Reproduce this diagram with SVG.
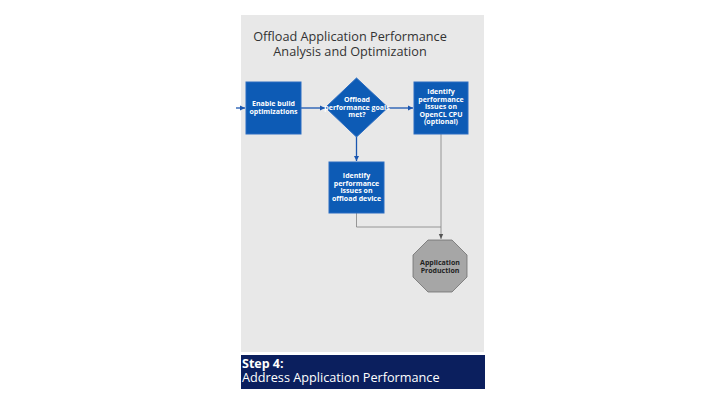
<svg xmlns="http://www.w3.org/2000/svg" width="720" height="405" viewBox="0 0 720 405">
<defs>
<style>
.node{fill:#0d5bb5;stroke:#2a6cc2;stroke-width:1}
.nt{font-family:"Open Sans","Noto Sans",sans-serif;font-weight:bold;font-size:7px;fill:#ffffff;text-anchor:middle}
.ot{font-family:"Open Sans","Noto Sans",sans-serif;font-weight:bold;font-size:7px;fill:#222222;text-anchor:middle}
.blue{stroke:#1a56b0;stroke-width:1.3;fill:none}
.gray{stroke:#808080;stroke-width:0.8;fill:none}
</style>
<marker id="ab" markerWidth="6" markerHeight="6" refX="5" refY="3" orient="auto" markerUnits="userSpaceOnUse"><path d="M0,0.5 L5,3 L0,5.5 z" fill="#1a56b0"/></marker>
<marker id="ag" markerWidth="6" markerHeight="6" refX="5" refY="3" orient="auto" markerUnits="userSpaceOnUse"><path d="M0,0.8 L5,3 L0,5.2 z" fill="#555555"/></marker>
</defs>
<rect width="720" height="405" fill="#ffffff"/>
<rect x="241" y="15" width="243" height="337" fill="#e8e8e8"/>
<g id="title" font-family="'Open Sans','Noto Sans',sans-serif" font-size="12.7" fill="#333333" text-anchor="middle">
<text x="350" y="41">Offload Application Performance</text>
<text x="350" y="56">Analysis and Optimization</text>
</g>
<g id="connectors">
<line class="blue" x1="236" y1="108" x2="245" y2="108" marker-end="url(#ab)"/>
<line class="blue" x1="301" y1="108" x2="325" y2="108" marker-end="url(#ab)"/>
<line class="blue" x1="388" y1="108" x2="413" y2="108" marker-end="url(#ab)"/>
<line class="blue" x1="356.5" y1="137" x2="356.5" y2="161" marker-end="url(#ab)"/>
<polyline class="gray" points="356.5,213 356.5,227 441,227"/>
<line class="gray" x1="441" y1="134" x2="441" y2="239" marker-end="url(#ag)"/>
</g>
<g id="enable-build">
<rect class="node" x="246" y="82" width="55" height="52"/>
<text class="nt" x="273.5" y="106">Enable build</text>
<text class="nt" x="273.5" y="114">optimizations</text>
</g>
<g id="goals-met">
<polygon class="node" points="356.5,78 388,107.5 356.5,137 325.5,107.5"/>
<text class="nt" x="357" y="102">Offload</text>
<text class="nt" x="357" y="109.5">performance goals</text>
<text class="nt" x="357" y="117">met?</text>
</g>
<g id="opencl-cpu">
<rect class="node" x="414" y="82" width="54" height="52"/>
<text class="nt" x="441" y="94">Identify</text>
<text class="nt" x="441" y="101.5">performance</text>
<text class="nt" x="441" y="109">issues on</text>
<text class="nt" x="441" y="116.5">OpenCL CPU</text>
<text class="nt" x="441" y="124">(optional)</text>
</g>
<g id="offload-device">
<rect class="node" x="329" y="162" width="55" height="51"/>
<text class="nt" x="356.5" y="178">Identify</text>
<text class="nt" x="356.5" y="185.5">performance</text>
<text class="nt" x="356.5" y="193">issues on</text>
<text class="nt" x="356.5" y="200.5">offload device</text>
</g>
<g id="app-production">
<polygon points="428,240 452,240 467,255 467,277 452,292 428,292 413,277 413,255" fill="#a6a6a6" stroke="#6e6e6e" stroke-width="0.8"/>
<text class="ot" x="440" y="265">Application</text>
<text class="ot" x="440" y="273">Production</text>
</g>
<g id="step-bar">
<rect x="241" y="355" width="244" height="34" fill="#0b1f5e"/>
<text x="242" y="367.5" font-family="'Open Sans','Noto Sans',sans-serif" font-size="12.5" font-weight="bold" fill="#ffffff">Step 4:</text>
<text x="242" y="382" font-family="'Open Sans','Noto Sans',sans-serif" font-size="12.7" fill="#ffffff">Address Application Performance</text>
</g>
</svg>
